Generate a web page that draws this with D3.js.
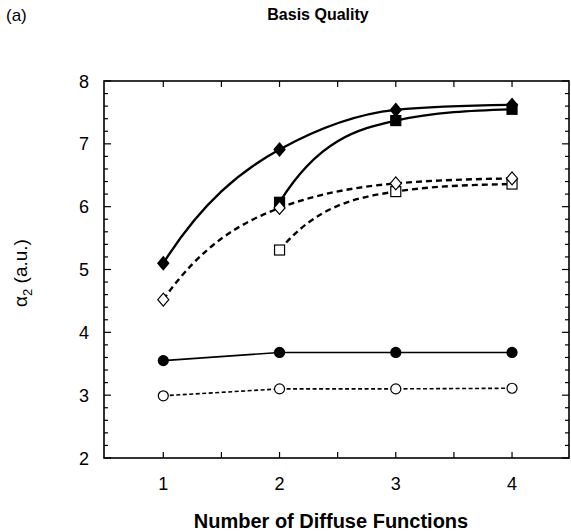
<!DOCTYPE html>
<html>
<head>
<meta charset="utf-8">
<script src="https://cdn.jsdelivr.net/npm/d3@7"></script>
<style>
  body { margin: 0; background: #fff; }
  svg { display: block; font-family: "Liberation Sans", Arial, sans-serif; }
</style>
</head>
<body>
<svg id="chart" width="571" height="531"></svg>
<script>
// data
const nDiffuse = [1, 2, 3, 4];
const filledDiamond = [5.10, 6.91, 7.54, 7.62];
const filledSquare = [null, 6.07, 7.37, 7.55];
const openDiamond = [4.52, 5.98, 6.37, 6.45];
const openSquare = [null, 5.31, 6.24, 6.36];
const filledCircle = [3.55, 3.68, 3.68, 3.68];
const openCircle = [2.99, 3.10, 3.10, 3.11];
const yTicks = [2, 3, 4, 5, 6, 7, 8];
const xTicks = [1, 2, 3, 4];

const svg = d3.select("#chart");
const plotL = 104, plotR = 569, plotT = 81, plotB = 458;

const x = d3.scaleLinear().domain([0.49, 4.49]).range([plotL, plotR]);
const y = d3.scaleLinear().domain([2, 8]).range([plotB, plotT]);

function pts(vals) {
    return nDiffuse.map((n, i) => ({ n: n, v: vals[i] })).filter(d => d.v !== null);
}

// smooth saturating curve: hermite segments, tangents taken from an
// exponential through each three neighbouring points (like the original plot)
function expTangent(sa, sb, where) {
    const r = sb / sa;
    if (!(r > 0) || Math.abs(r - 1) < 1e-6) return where === 0 ? sa : where === 2 ? sb : (sa + sb) / 2;
    const f = Math.log(r) / (r - 1);
    if (where === 0) return sa * f;
    if (where === 1) return sa * r * f;
    return sb * r * f;
}
function SatCurve(context) { this._context = context; }
SatCurve.prototype = {
    areaStart() { this._line = 0; },
    areaEnd() { this._line = NaN; },
    lineStart() { this._pts = []; },
    point(px, py) { this._pts.push([+px, +py]); },
    lineEnd() {
        const p = this._pts, n = p.length, c = this._context;
        if (!n) return;
        c.moveTo(p[0][0], p[0][1]);
        if (n < 3) { for (let i = 1; i < n; i++) c.lineTo(p[i][0], p[i][1]); return; }
        const s = [];
        for (let i = 0; i < n - 1; i++) s.push((p[i + 1][1] - p[i][1]) / (p[i + 1][0] - p[i][0]));
        const m = [];
        m[0] = expTangent(s[0], s[1], 0);
        for (let i = 1; i < n - 1; i++) m[i] = expTangent(s[i - 1], s[i], 1);
        m[n - 1] = expTangent(s[n - 3], s[n - 2], 2);
        for (let i = 0; i < n - 1; i++) {
            const h = (p[i + 1][0] - p[i][0]) / 3;
            c.bezierCurveTo(p[i][0] + h, p[i][1] + m[i] * h,
                p[i + 1][0] - h, p[i + 1][1] - m[i + 1] * h,
                p[i + 1][0], p[i + 1][1]);
        }
    }
};
const curveSat = context => new SatCurve(context);

// frame
svg.append("rect")
    .attr("x", plotL).attr("y", plotT)
    .attr("width", plotR - plotL).attr("height", plotB - plotT)
    .attr("fill", "none").attr("stroke", "#000").attr("stroke-width", 1.6);

// ticks: left/right inward, every 0.2
const yMinor = d3.range(2, 8.001, 0.2);
const isMajor = d => yTicks.some(m => Math.abs(m - d) < 1e-6);
svg.append("g").selectAll("line").data(yMinor).enter().append("line")
    .attr("x1", plotL).attr("x2", d => plotL + (isMajor(d) ? 7 : 4))
    .attr("y1", d => y(d)).attr("y2", d => y(d))
    .attr("stroke", "#000").attr("stroke-width", 1.2);
svg.append("g").selectAll("line").data(yMinor).enter().append("line")
    .attr("x1", plotR).attr("x2", d => plotR - (isMajor(d) ? 7 : 4))
    .attr("y1", d => y(d)).attr("y2", d => y(d))
    .attr("stroke", "#000").attr("stroke-width", 1.2);

// ticks: top/bottom inward, every 0.5
const xMinor = d3.range(1, 4.001, 0.5);
svg.append("g").selectAll("line").data(xMinor).enter().append("line")
    .attr("x1", d => x(d)).attr("x2", d => x(d))
    .attr("y1", plotT).attr("y2", plotT + 6)
    .attr("stroke", "#000").attr("stroke-width", 1.2);
svg.append("g").selectAll("line").data(xMinor).enter().append("line")
    .attr("x1", d => x(d)).attr("x2", d => x(d))
    .attr("y1", plotB).attr("y2", plotB - 6)
    .attr("stroke", "#000").attr("stroke-width", 1.2);

// tick labels
svg.append("g").selectAll("text").data(yTicks).enter().append("text")
    .attr("x", 89).attr("y", d => y(d) + 6.5)
    .attr("text-anchor", "end").attr("font-size", 18)
    .text(d => d);
svg.append("g").selectAll("text").data(xTicks).enter().append("text")
    .attr("x", d => x(d)).attr("y", 490)
    .attr("text-anchor", "middle").attr("font-size", 18)
    .text(d => d);

// titles
svg.append("text").attr("x", 6).attr("y", 21).attr("font-size", 17).text("(a)");
svg.append("text").attr("x", 318).attr("y", 20).attr("text-anchor", "middle")
    .attr("font-size", 16).attr("font-weight", "bold").text("Basis Quality");
svg.append("text").attr("x", 331).attr("y", 528).attr("text-anchor", "middle")
    .attr("font-size", 20).attr("font-weight", "bold").text("Number of Diffuse Functions");
const yl = svg.append("text")
    .attr("transform", "translate(27,273) rotate(-90)")
    .attr("text-anchor", "middle").attr("font-size", 19);
yl.append("tspan").text("α");
yl.append("tspan").attr("font-size", 13).attr("dy", 5).text("2");
yl.append("tspan").attr("dy", -5).text(" (a.u.)");

// lines
const curved = d3.line().x(d => x(d.n)).y(d => y(d.v)).curve(curveSat);
const straight = d3.line().x(d => x(d.n)).y(d => y(d.v));

const series = [
    { vals: openSquare, gen: curved, dash: "6,4", w: 2.4 },
    { vals: openDiamond, gen: curved, dash: "6,4", w: 2.4 },
    { vals: filledSquare, gen: curved, dash: null, w: 2.4 },
    { vals: filledDiamond, gen: curved, dash: null, w: 2.4 },
    { vals: openCircle, gen: straight, dash: "4,2.5", w: 1.6 },
    { vals: filledCircle, gen: straight, dash: null, w: 1.6 }
];
series.forEach(s => {
    svg.append("path")
        .attr("d", s.gen(pts(s.vals)))
        .attr("fill", "none").attr("stroke", "#000")
        .attr("stroke-width", s.w)
        .attr("stroke-dasharray", s.dash);
});

// markers
function diamonds(vals, fill) {
    svg.append("g").selectAll("path").data(pts(vals)).enter().append("path")
        .attr("d", d => {
            const cx = x(d.n), cy = y(d.v);
            return `M${cx},${cy - 6.5}L${cx + 5.5},${cy}L${cx},${cy + 6.5}L${cx - 5.5},${cy}Z`;
        })
        .attr("fill", fill).attr("stroke", "#000").attr("stroke-width", 1.2);
}
function squares(vals, fill) {
    svg.append("g").selectAll("rect").data(pts(vals)).enter().append("rect")
        .attr("x", d => x(d.n) - 5).attr("y", d => y(d.v) - 5)
        .attr("width", 10).attr("height", 10)
        .attr("fill", fill).attr("stroke", "#000").attr("stroke-width", 1.2);
}
function circles(vals, fill) {
    svg.append("g").selectAll("circle").data(pts(vals)).enter().append("circle")
        .attr("cx", d => x(d.n)).attr("cy", d => y(d.v)).attr("r", 5)
        .attr("fill", fill).attr("stroke", "#000").attr("stroke-width", 1.2);
}
squares(openSquare, "#fff");
squares(filledSquare, "#000");
diamonds(openDiamond, "#fff");
diamonds(filledDiamond, "#000");
circles(openCircle, "#fff");
circles(filledCircle, "#000");
</script>
</body>
</html>
